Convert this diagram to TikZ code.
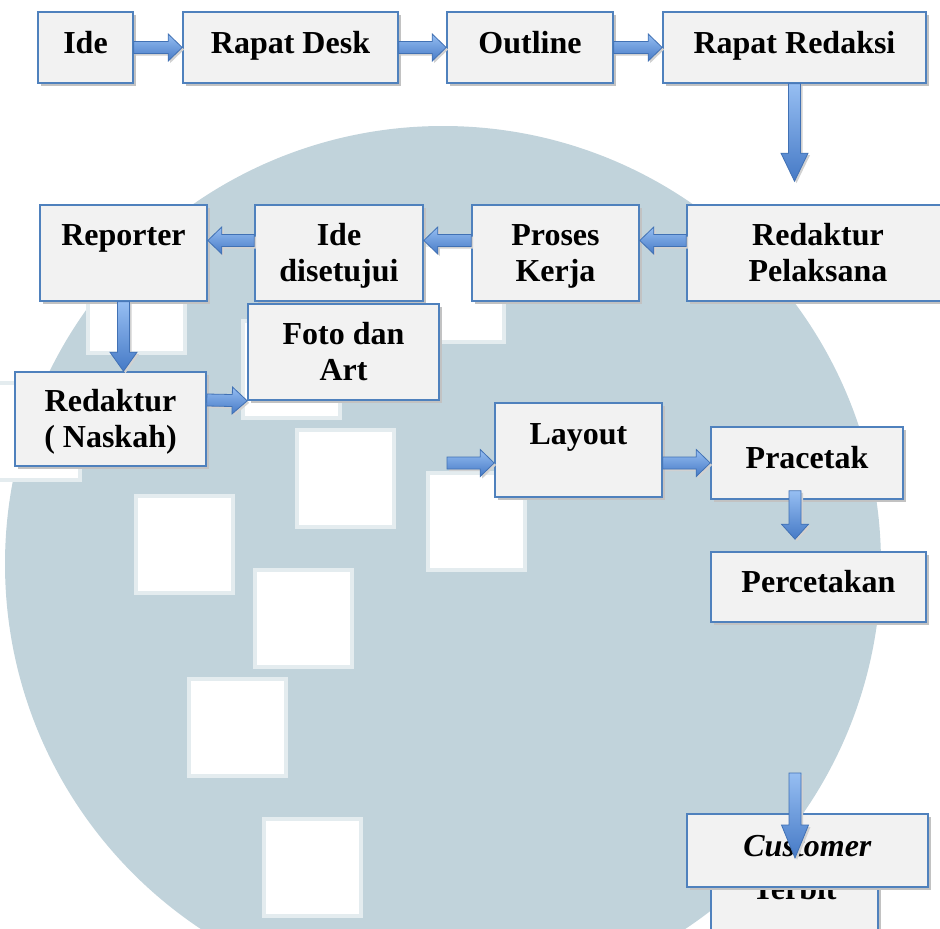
\documentclass[tikz,border=0pt]{standalone}
\usepackage{fontspec}
\setmainfont{Liberation Serif}
\usepackage{tikz}
\usetikzlibrary{calc,shadows}

\definecolor{boxedge}{RGB}{79,129,189}
\definecolor{boxfill}{RGB}{242,242,242}
\definecolor{arrowlight}{RGB}{150,190,242}
\definecolor{arrowdark}{RGB}{70,122,198}
\definecolor{arrowedge}{RGB}{65,113,180}
\definecolor{logoblue}{RGB}{193,211,219}
\definecolor{logoedge}{RGB}{228,236,239}

\tikzset{
  box/.style={draw=boxedge, fill=boxfill, line width=1.6pt, inner sep=0pt, align=center,
    font=\fontsize{32}{36}\selectfont\bfseries,
    drop shadow={shadow xshift=3pt, shadow yshift=-3pt, fill=black!24, opacity=1}},
  oneline/.style={text height=20pt, text depth=9pt},
  twoline/.style={text height=58pt, text depth=2pt},
  blockarrow/.style={draw=arrowedge, line width=0.8pt, top color=arrowlight, bottom color=arrowdark,
    drop shadow={shadow xshift=2pt, shadow yshift=-2pt, fill=black!18, opacity=1}},
  wmsquare/.style={fill=white, draw=logoedge, line width=4pt}
}

% block arrow from #2 to #3, head length #1
\newcommand{\flowarrow}[3][14pt]{%
  \coordinate (fa-s) at (#2);
  \coordinate (fa-e) at (#3);
  \coordinate (fa-h) at ($(fa-e)!#1!(fa-s)$);
  \path[blockarrow] ($(fa-s)!6pt!90:(fa-e)$) -- ($(fa-h)!6pt!-90:(fa-s)$)
    -- ($(fa-h)!13.5pt!-90:(fa-s)$) -- (fa-e) -- ($(fa-h)!13.5pt!90:(fa-s)$)
    -- ($(fa-h)!6pt!90:(fa-s)$) -- ($(fa-s)!6pt!-90:(fa-e)$) -- cycle;
}

\begin{document}
\begin{tikzpicture}[x=1pt, y=-1pt]
    \clip (0,0) rectangle (940,929);
    \fill[white] (0,0) rectangle (940,929);

    % watermark
    \fill[logoblue] (443,564) circle (438);
    \foreach \sx/\sy in {88/256, 243/321, 407/245, -17/383, 297/430, 428/473,
                         136/496, 255/570, 189/679, 264/819}
        \filldraw[wmsquare] (\sx,\sy) rectangle +(97,97);

    % first row
    \node[box, oneline, minimum width=95pt, minimum height=71pt] (ide) at (85.5,47.5) {Ide};
    \node[box, oneline, minimum width=215pt, minimum height=71pt] (rapatdesk) at (290.5,47.5) {Rapat Desk};
    \node[box, oneline, minimum width=166pt, minimum height=71pt] (outline) at (530,47.5) {Outline};
    \node[box, oneline, minimum width=263pt, minimum height=71pt] (rapatred) at (794.5,47.5) {Rapat Redaksi};

    % second row
    \node[box, twoline, minimum width=167pt, minimum height=96pt] (reporter) at (123.5,253) {Reporter\\\phantom{X}};
    \node[box, twoline, minimum width=168pt, minimum height=96pt] (idesetuju) at (339,253) {Ide\\disetujui};
    \node[box, twoline, minimum width=167pt, minimum height=96pt] (proses) at (555.5,253) {Proses\\Kerja};
    \node[box, twoline, minimum width=262pt, minimum height=96pt] (redpel) at (818,253) {Redaktur\\Pelaksana};

    \node[box, twoline, minimum width=191pt, minimum height=96pt] (fotoart) at (343.5,352) {Foto dan\\Art};
    \node[box, twoline, minimum width=191pt, minimum height=94pt] (rednaskah) at (110.5,419) {Redaktur\\( Naskah)};

    % third row
    \node[box, twoline, text height=63pt, minimum width=167pt, minimum height=94pt] (layout) at (578.5,450) {Layout\\\phantom{X}};
    \node[box, oneline, minimum width=192pt, minimum height=72pt] (pracetak) at (807,463) {Pracetak};
    \node[box, oneline, minimum width=215pt, minimum height=70pt] (percetakan) at (818.5,587) {Percetakan};

    \node[box, oneline, minimum width=167pt, minimum height=110pt] (terbit) at (794.5,894) {Terbit};
    \node[box, oneline, minimum width=241pt, minimum height=73pt] (customer) at (807.5,850.5) {\textit{Customer}};

    \coordinate (layoutin) at (447,463);
    \coordinate (terbitin) at (795,773);

    % arrows
    \flowarrow{ide.east}{rapatdesk.west}
    \flowarrow{rapatdesk.east}{outline.west}
    \flowarrow{outline.east}{rapatred.west}
    \flowarrow[28pt]{rapatred.south}{$(rapatred.south |- redpel.north)+(0,-23)$}
    \flowarrow{[yshift=12.5pt]redpel.west}{[yshift=12.5pt]proses.east}
    \flowarrow{[yshift=12.5pt]proses.west}{[yshift=12.5pt]idesetuju.east}
    \flowarrow{[yshift=12.5pt]idesetuju.west}{[yshift=12.5pt]reporter.east}
    \flowarrow[19pt]{reporter.south}{reporter.south |- rednaskah.north}
    \flowarrow[15pt]{[yshift=19pt]rednaskah.east}{fotoart.south west}
    \flowarrow{layoutin}{[yshift=-13pt]layout.west}
    \flowarrow{[yshift=-13pt]layout.east}{pracetak.west}
    \flowarrow[15pt]{[xshift=-12pt,yshift=9pt]pracetak.south}{$(percetakan.north)+(-23.5,-12)$}
    \flowarrow[33pt]{terbitin}{$(customer.center)+(-12.5,7.5)$}
\end{tikzpicture}
\end{document}
